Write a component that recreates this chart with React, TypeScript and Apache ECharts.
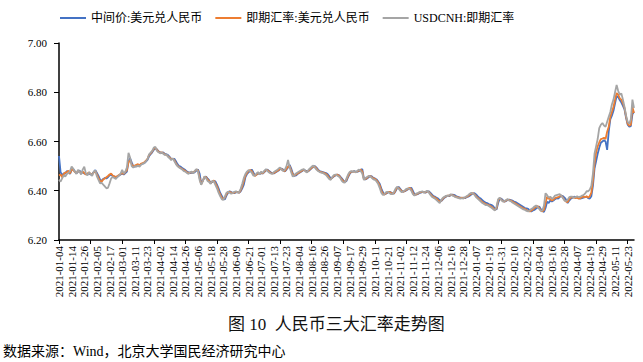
import React, { useEffect, useRef } from "react";
import * as echarts from "echarts";

// Trading calendar: weekdays from 2021-01-04 (365 points, to 2022-05-27)
const startDate = "2021-01-04";
const pointCount = 365;

function buildWeekdays(start: string, count: number): string[] {
  const [y, m, d] = start.split("-").map(Number);
  const cur = new Date(Date.UTC(y, m - 1, d));
  const out: string[] = [];
  while (out.length < count) {
    const wd = cur.getUTCDay();
    if (wd !== 0 && wd !== 6) {
      const mm = String(cur.getUTCMonth() + 1).padStart(2, "0");
      const dd = String(cur.getUTCDate()).padStart(2, "0");
      out.push(`${cur.getUTCFullYear()}-${mm}-${dd}`);
    }
    cur.setUTCDate(cur.getUTCDate() + 1);
  }
  return out;
}

const categories = buildWeekdays(startDate, pointCount);

const seriesNames = ["中间价:美元兑人民币", "即期汇率:美元兑人民币", "USDCNH:即期汇率"];
const yTicks = [6.2, 6.4, 6.6, 6.8, 7.0];

// 中间价 (blue)
const midRate = [
  6.541, 6.476, 6.462, 6.471, 6.470,
  6.480, 6.478, 6.468, 6.485, 6.488,
  6.479, 6.470, 6.477, 6.482, 6.473,
  6.475, 6.470, 6.468, 6.466, 6.472,
  6.465, 6.468, 6.476, 6.484, 6.472,
  6.460, 6.445, 6.440, 6.448, 6.452,
  6.450, 6.455, 6.462, 6.466, 6.460,
  6.458, 6.455, 6.457, 6.462, 6.466,
  6.470, 6.466, 6.472, 6.478, 6.520,
  6.532, 6.515, 6.500, 6.498, 6.502,
  6.505, 6.503, 6.508, 6.510, 6.512,
  6.518, 6.525, 6.540, 6.548, 6.556,
  6.566, 6.572, 6.568, 6.560, 6.556,
  6.553, 6.556, 6.550, 6.548, 6.545,
  6.538, 6.530, 6.528, 6.530, 6.520,
  6.508, 6.500, 6.498, 6.492, 6.488,
  6.484, 6.478, 6.475, 6.472, 6.474,
  6.472, 6.476, 6.482, 6.486, 6.470,
  6.432, 6.440, 6.452, 6.458, 6.450,
  6.443, 6.432, 6.436, 6.440, 6.438,
  6.425, 6.410, 6.392, 6.380, 6.368,
  6.365, 6.380, 6.392, 6.398, 6.395,
  6.392, 6.390, 6.393, 6.395, 6.392,
  6.398, 6.410, 6.425, 6.455, 6.468,
  6.475, 6.480, 6.486, 6.475, 6.462,
  6.465, 6.470, 6.468, 6.472, 6.470,
  6.476, 6.482, 6.486, 6.480, 6.475,
  6.472, 6.470, 6.474, 6.478, 6.482,
  6.488, 6.490, 6.485, 6.478, 6.486,
  6.495, 6.505, 6.490, 6.470, 6.460,
  6.462, 6.468, 6.472, 6.476, 6.480,
  6.485, 6.482, 6.478, 6.480, 6.486,
  6.492, 6.496, 6.500, 6.494, 6.486,
  6.480, 6.478, 6.476, 6.474, 6.472,
  6.468, 6.460, 6.450, 6.452, 6.458,
  6.462, 6.466, 6.464, 6.458, 6.450,
  6.442, 6.436, 6.440, 6.455, 6.468,
  6.476, 6.478, 6.480, 6.476, 6.478,
  6.480, 6.484, 6.488, 6.450, 6.446,
  6.450, 6.455, 6.460, 6.458, 6.452,
  6.450, 6.446, 6.438, 6.428, 6.410,
  6.395, 6.385, 6.388, 6.392, 6.396,
  6.394, 6.390, 6.388, 6.398, 6.410,
  6.416, 6.408, 6.400, 6.396, 6.398,
  6.402, 6.406, 6.410, 6.412, 6.400,
  6.386, 6.384, 6.386, 6.390, 6.392,
  6.394, 6.396, 6.392, 6.396, 6.398,
  6.392, 6.385, 6.378, 6.376, 6.372,
  6.368, 6.362, 6.358, 6.365, 6.372,
  6.376, 6.380, 6.378, 6.382, 6.384,
  6.383, 6.380, 6.376, 6.374, 6.372,
  6.370, 6.372, 6.370, 6.374, 6.376,
  6.380, 6.385, 6.388, 6.390, 6.385,
  6.378, 6.372, 6.368, 6.362, 6.356,
  6.352, 6.350, 6.346, 6.344, 6.342,
  6.336, 6.328, 6.324, 6.350, 6.368,
  6.368, 6.362, 6.356, 6.358, 6.362,
  6.364, 6.362, 6.360, 6.356, 6.354,
  6.350, 6.346, 6.342, 6.338, 6.334,
  6.330, 6.328, 6.326, 6.320, 6.316,
  6.320, 6.322, 6.328, 6.332, 6.336,
  6.325, 6.318, 6.314, 6.330, 6.355,
  6.350, 6.360, 6.356, 6.360, 6.366,
  6.370, 6.368, 6.374, 6.380, 6.378,
  6.372, 6.364, 6.350, 6.360, 6.368,
  6.372, 6.376, 6.374, 6.372, 6.370,
  6.368, 6.370, 6.372, 6.374, 6.376,
  6.370, 6.368, 6.378, 6.420, 6.490,
  6.520, 6.550, 6.575, 6.595, 6.600,
  6.605, 6.600, 6.566, 6.640, 6.690,
  6.705, 6.725, 6.755, 6.785, 6.780,
  6.768, 6.758, 6.745, 6.730, 6.695,
  6.668, 6.660, 6.662, 6.710, 6.722,
];

// 即期汇率 (orange)
const spotRate = [
  6.462, 6.466, 6.455, 6.468, 6.474,
  6.476, 6.482, 6.470, 6.488, 6.484,
  6.476, 6.472, 6.480, 6.478, 6.470,
  6.478, 6.472, 6.466, 6.470, 6.474,
  6.468, 6.466, 6.474, 6.480, 6.466,
  6.452, 6.440, 6.437, 6.446, 6.450,
  6.455, 6.460, 6.466, 6.470, 6.462,
  6.458, 6.456, 6.460, 6.464, 6.468,
  6.472, 6.468, 6.476, 6.484, 6.515,
  6.525, 6.508, 6.498, 6.502, 6.505,
  6.508, 6.504, 6.510, 6.512, 6.515,
  6.522, 6.530, 6.545, 6.552, 6.560,
  6.570, 6.575, 6.566, 6.558, 6.555,
  6.556, 6.552, 6.548, 6.546, 6.540,
  6.535, 6.528, 6.530, 6.524, 6.512,
  6.502, 6.496, 6.492, 6.488, 6.484,
  6.480, 6.475, 6.472, 6.474, 6.476,
  6.474, 6.480, 6.486, 6.482, 6.452,
  6.426, 6.440, 6.456, 6.456, 6.446,
  6.440, 6.430, 6.438, 6.442, 6.430,
  6.418, 6.400, 6.385, 6.372, 6.365,
  6.372, 6.386, 6.394, 6.396, 6.392,
  6.390, 6.392, 6.396, 6.394, 6.392,
  6.402, 6.418, 6.440, 6.462, 6.472,
  6.480, 6.484, 6.480, 6.468, 6.460,
  6.466, 6.472, 6.468, 6.474, 6.470,
  6.478, 6.484, 6.484, 6.478, 6.472,
  6.470, 6.472, 6.476, 6.480, 6.484,
  6.490, 6.488, 6.482, 6.480, 6.490,
  6.498, 6.500, 6.482, 6.466, 6.462,
  6.466, 6.470, 6.474, 6.478, 6.482,
  6.486, 6.480, 6.476, 6.482, 6.488,
  6.494, 6.498, 6.498, 6.490, 6.482,
  6.478, 6.476, 6.474, 6.472, 6.468,
  6.462, 6.452, 6.446, 6.454, 6.460,
  6.464, 6.466, 6.462, 6.455, 6.446,
  6.438, 6.435, 6.445, 6.460, 6.472,
  6.478, 6.478, 6.478, 6.475, 6.480,
  6.482, 6.486, 6.478, 6.446, 6.448,
  6.452, 6.458, 6.460, 6.455, 6.450,
  6.448, 6.442, 6.434, 6.422, 6.402,
  6.388, 6.384, 6.390, 6.394, 6.396,
  6.392, 6.388, 6.390, 6.402, 6.414,
  6.412, 6.404, 6.398, 6.396, 6.400,
  6.404, 6.408, 6.412, 6.406, 6.392,
  6.382, 6.385, 6.388, 6.392, 6.394,
  6.396, 6.394, 6.394, 6.398, 6.396,
  6.388, 6.380, 6.375, 6.372, 6.368,
  6.362, 6.355, 6.360, 6.368, 6.374,
  6.378, 6.380, 6.380, 6.384, 6.382,
  6.380, 6.376, 6.374, 6.372, 6.370,
  6.372, 6.370, 6.372, 6.376, 6.378,
  6.384, 6.388, 6.390, 6.386, 6.378,
  6.372, 6.366, 6.360, 6.354, 6.350,
  6.346, 6.344, 6.342, 6.338, 6.334,
  6.328, 6.322, 6.330, 6.362, 6.370,
  6.364, 6.358, 6.356, 6.360, 6.364,
  6.362, 6.360, 6.356, 6.352, 6.348,
  6.344, 6.340, 6.336, 6.332, 6.328,
  6.326, 6.322, 6.318, 6.316, 6.320,
  6.324, 6.330, 6.334, 6.338, 6.330,
  6.320, 6.316, 6.322, 6.350, 6.376,
  6.368, 6.366, 6.360, 6.364, 6.370,
  6.372, 6.374, 6.378, 6.380, 6.372,
  6.362, 6.356, 6.354, 6.366, 6.372,
  6.374, 6.372, 6.370, 6.372, 6.368,
  6.370, 6.374, 6.376, 6.374, 6.378,
  6.372, 6.378, 6.392, 6.440, 6.510,
  6.555, 6.580, 6.596, 6.610, 6.612,
  6.615, 6.610, 6.640, 6.660, 6.700,
  6.720, 6.740, 6.770, 6.797, 6.790,
  6.775, 6.770, 6.755, 6.736, 6.700,
  6.672, 6.664, 6.668, 6.740, 6.716,
];

// USDCNH (gray)
const cnhRate = [
  6.445, 6.437, 6.450, 6.462, 6.458,
  6.468, 6.472, 6.480, 6.498, 6.490,
  6.478, 6.468, 6.485, 6.478, 6.466,
  6.486, 6.498, 6.470, 6.462, 6.476,
  6.468, 6.460, 6.478, 6.482, 6.458,
  6.444, 6.430, 6.432, 6.425, 6.418,
  6.410, 6.412, 6.430, 6.450, 6.456,
  6.452, 6.448, 6.456, 6.462, 6.470,
  6.485, 6.470, 6.478, 6.495, 6.554,
  6.535, 6.500, 6.494, 6.500, 6.498,
  6.502, 6.498, 6.506, 6.510, 6.512,
  6.520, 6.528, 6.548, 6.555, 6.562,
  6.575, 6.578, 6.562, 6.556, 6.552,
  6.555, 6.550, 6.545, 6.548, 6.538,
  6.532, 6.524, 6.532, 6.520, 6.508,
  6.500, 6.494, 6.490, 6.486, 6.480,
  6.478, 6.472, 6.468, 6.476, 6.478,
  6.470, 6.482, 6.488, 6.478, 6.444,
  6.424, 6.438, 6.458, 6.452, 6.440,
  6.436, 6.428, 6.440, 6.438, 6.424,
  6.410, 6.392, 6.378, 6.366, 6.362,
  6.376, 6.392, 6.396, 6.392, 6.388,
  6.390, 6.396, 6.398, 6.392, 6.394,
  6.408, 6.428, 6.452, 6.468, 6.478,
  6.484, 6.480, 6.474, 6.462, 6.462,
  6.470, 6.476, 6.466, 6.478, 6.472,
  6.482, 6.488, 6.480, 6.474, 6.470,
  6.468, 6.476, 6.480, 6.484, 6.490,
  6.494, 6.484, 6.480, 6.486, 6.500,
  6.525, 6.495, 6.474, 6.457, 6.464,
  6.470, 6.474, 6.478, 6.482, 6.486,
  6.488, 6.478, 6.474, 6.486, 6.492,
  6.498, 6.502, 6.494, 6.486, 6.480,
  6.476, 6.474, 6.472, 6.468, 6.464,
  6.456, 6.448, 6.444, 6.456, 6.464,
  6.466, 6.462, 6.458, 6.452, 6.440,
  6.434, 6.433, 6.450, 6.466, 6.476,
  6.480, 6.476, 6.480, 6.474, 6.482,
  6.486, 6.480, 6.470, 6.444, 6.452,
  6.456, 6.460, 6.458, 6.452, 6.446,
  6.444, 6.438, 6.428, 6.412, 6.392,
  6.383, 6.386, 6.394, 6.396, 6.392,
  6.386, 6.386, 6.394, 6.408, 6.416,
  6.408, 6.400, 6.394, 6.398, 6.402,
  6.408, 6.410, 6.408, 6.400, 6.386,
  6.380, 6.388, 6.390, 6.394, 6.396,
  6.398, 6.392, 6.396, 6.400, 6.394,
  6.384, 6.376, 6.372, 6.368, 6.362,
  6.356, 6.350, 6.362, 6.372, 6.376,
  6.380, 6.378, 6.382, 6.386, 6.380,
  6.378, 6.374, 6.372, 6.370, 6.368,
  6.370, 6.368, 6.374, 6.378, 6.382,
  6.388, 6.392, 6.388, 6.384, 6.374,
  6.368, 6.362, 6.356, 6.350, 6.346,
  6.342, 6.342, 6.338, 6.334, 6.330,
  6.324, 6.320, 6.336, 6.366, 6.372,
  6.362, 6.356, 6.358, 6.362, 6.366,
  6.360, 6.358, 6.352, 6.348, 6.344,
  6.340, 6.336, 6.332, 6.328, 6.324,
  6.322, 6.318, 6.316, 6.320, 6.326,
  6.330, 6.336, 6.340, 6.334, 6.326,
  6.318, 6.320, 6.340, 6.390, 6.382,
  6.372, 6.376, 6.368, 6.372, 6.380,
  6.382, 6.384, 6.386, 6.380, 6.370,
  6.360, 6.358, 6.364, 6.374, 6.376,
  6.376, 6.372, 6.374, 6.378, 6.374,
  6.376, 6.380, 6.382, 6.388, 6.398,
  6.398, 6.405, 6.420, 6.470, 6.550,
  6.580, 6.610, 6.654, 6.668, 6.675,
  6.665, 6.660, 6.680, 6.700, 6.720,
  6.750, 6.770, 6.800, 6.830, 6.805,
  6.790, 6.795, 6.770, 6.740, 6.705,
  6.680, 6.672, 6.690, 6.770, 6.736,
];

const captionText = "图 10  人民币三大汇率走势图";
const sourceText = "数据来源：Wind，北京大学国民经济研究中心";

const colors = ["#4472C4", "#ED7D31", "#A5A5A5"];
const serif = "'Liberation Serif', 'Noto Sans CJK SC', serif";

export default function App() {
  const ref = useRef<HTMLDivElement>(null);
  useEffect(() => {
    if (!ref.current) return;
    const chart = echarts.init(ref.current, undefined, { renderer: "svg" });
    const data = [midRate, spotRate, cnhRate];
    chart.setOption({
      animation: false,
      color: colors,
      legend: {
        left: 55,
        top: 7,
        icon: "rect",
        itemWidth: 26,
        itemHeight: 2,
        itemGap: 13,
        textStyle: { fontFamily: serif, fontSize: 12, color: "#000" },
        data: seriesNames,
      },
      grid: { left: 59, right: 9, top: 43, bottom: 122, containLabel: false },
      xAxis: {
        type: "category",
        data: categories,
        boundaryGap: false,
        axisLine: { lineStyle: { color: "#000", width: 1.5 } },
        axisTick: { show: true, interval: 19, length: 4, lineStyle: { color: "#000" } },
        axisLabel: {
          interval: 7,
          rotate: 90,
          margin: 6,
          fontFamily: serif,
          fontSize: 11,
          color: "#000",
        },
        splitLine: { show: false },
      },
      yAxis: {
        type: "value",
        min: yTicks[0],
        max: yTicks[yTicks.length - 1],
        interval: 0.2,
        axisLine: { show: true, lineStyle: { color: "#000", width: 1.5 } },
        axisTick: { show: true, length: 5, lineStyle: { color: "#000" } },
        axisLabel: {
          margin: 12,
          fontFamily: serif,
          fontSize: 11,
          color: "#000",
          formatter: (v: number) => v.toFixed(2),
        },
        splitLine: { show: false },
      },
      series: seriesNames.map((name, i) => ({
        name,
        type: "line",
        data: data[i],
        showSymbol: false,
        symbol: "none",
        lineStyle: { width: 1.8, color: colors[i] },
        z: 2 + i,
      })),
      graphic: [
        {
          type: "text",
          left: 228,
          top: 316,
          style: { text: captionText, fontFamily: serif, fontSize: 17, fill: "#111" },
        },
        {
          type: "text",
          left: 3,
          top: 344,
          style: { text: sourceText, fontFamily: serif, fontSize: 14, fill: "#000" },
        },
      ],
    });
    return () => chart.dispose();
  }, []);
  return (
    <div
      ref={ref}
      style={{ position: "absolute", left: 0, top: 0, width: 643, height: 362 }}
    />
  );
}
